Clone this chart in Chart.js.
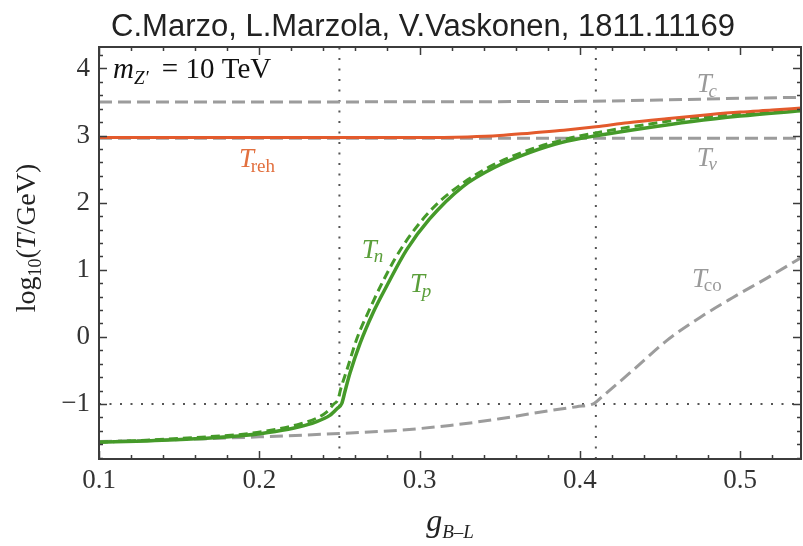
<!DOCTYPE html>
<html lang="en">
<head>
  <meta charset="UTF-8" />
  <title>Temperatures vs g_B-L</title>
  <script src="https://cdn.jsdelivr.net/npm/chart.js"></script>
  <style>
    html, body {
      margin: 0;
      padding: 0;
      background: #fff;
    }
    canvas {
      display: block;
    }
  </style>
</head>
<body>
  <canvas id="tempChart" width="803" height="546"></canvas>

  <script>
    // axis ranges and tick labels
    const xMin = 0.1, xMax = 0.538;
    const yMin = -1.82, yMax = 4.32;
    const xTicks = [0.1, 0.2, 0.3, 0.4, 0.5];
    const yTicks = [-1, 0, 1, 2, 3, 4];

    // reference lines (dotted)
    const refG = [0.25, 0.41];
    const refLog = -1;

    // T_reh
    const trehG   = [0.100, 0.300, 0.330, 0.350, 0.370, 0.390, 0.410, 0.430, 0.454, 0.480, 0.500, 0.520, 0.538];
    const trehLog = [2.97, 2.97, 2.98, 3.00, 3.04, 3.08, 3.13, 3.19, 3.25, 3.31, 3.35, 3.38, 3.41];

    // T_p (solid green)
    const tpG   = [0.100, 0.130, 0.160, 0.190, 0.210, 0.225, 0.235, 0.244, 0.2485, 0.2515, 0.2535, 0.2566, 0.263, 0.271, 0.280, 0.292, 0.306, 0.327, 0.348, 0.369, 0.389, 0.411, 0.440, 0.470, 0.500, 0.538];
    const tpLog = [-1.57, -1.55, -1.52, -1.47, -1.41, -1.34, -1.27, -1.17, -1.07, -0.99, -0.81, -0.54, -0.09, 0.36, 0.78, 1.30, 1.75, 2.24, 2.54, 2.75, 2.90, 3.00, 3.11, 3.21, 3.29, 3.37];

    // T_n (dashed green)
    const tnG   = [0.100, 0.130, 0.160, 0.190, 0.210, 0.225, 0.235, 0.242, 0.2465, 0.249, 0.251, 0.2547, 0.261, 0.269, 0.277, 0.2846, 0.295, 0.310, 0.330, 0.350, 0.370, 0.390, 0.410, 0.440, 0.470, 0.500, 0.538];
    const tnLog = [-1.57, -1.54, -1.50, -1.45, -1.38, -1.30, -1.22, -1.12, -1.00, -0.94, -0.76, -0.49, -0.02, 0.42, 0.82, 1.16, 1.54, 1.96, 2.34, 2.61, 2.80, 2.94, 3.04, 3.16, 3.26, 3.32, 3.38];

    // T_c, T_v, T_co (gray dashed)
    const tcG   = [0.100, 0.400, 0.450, 0.500, 0.538];
    const tcLog = [3.50, 3.51, 3.53, 3.555, 3.57];
    const tvG   = [0.100, 0.538];
    const tvLog = [2.96, 2.96];
    const tcoG   = [0.100, 0.150, 0.200, 0.250, 0.288, 0.319, 0.350, 0.381, 0.398, 0.409, 0.414, 0.433, 0.454, 0.475, 0.495, 0.517, 0.538];
    const tcoLog = [-1.56, -1.53, -1.49, -1.44, -1.39, -1.32, -1.22, -1.10, -1.04, -0.99, -0.89, -0.50, -0.06, 0.29, 0.58, 0.88, 1.18];

    const SERIF = "'Liberation Serif', 'DejaVu Serif', serif";
    const SANS = "'Liberation Sans', Arial, sans-serif";
    const RED = '#e35a2c';
    const GREEN = '#459a29';
    const GRAY = '#9c9c9c';

    const pts = (xs, ys) => xs.map((g, i) => ({ x: g, y: ys[i] }));

    function curve(data, color, width, dash) {
      return {
        data,
        borderColor: color,
        borderWidth: width,
        borderDash: dash || [],
        pointRadius: 0,
        fill: false,
        tension: 0.4,
        cubicInterpolationMode: 'monotone'
      };
    }

    function dotted(data) {
      return {
        data,
        borderColor: '#555',
        borderWidth: 2,
        borderDash: [2, 8.5],
        pointRadius: 0,
        fill: false,
        tension: 0
      };
    }

    // T with a subscript, placed in data coordinates
    function drawSub(ctx, x, y, base, sub, color, size, subItalic) {
      ctx.fillStyle = color;
      ctx.textAlign = 'left';
      ctx.textBaseline = 'alphabetic';
      ctx.font = `italic ${size}px ${SERIF}`;
      ctx.fillText(base, x, y);
      const w = ctx.measureText(base).width;
      ctx.font = `${subItalic ? 'italic ' : ''}${Math.round(size * 0.7)}px ${SERIF}`;
      ctx.fillText(sub, x + w - size * 0.12, y + size * 0.17);
    }

    const decor = {
      id: 'decor',
      beforeDraw(chart) {
        const ctx = chart.ctx;
        ctx.save();
        ctx.fillStyle = '#fff';
        ctx.fillRect(0, 0, chart.width, chart.height);
        ctx.restore();
      },
      afterDatasetsDraw(chart) {
        const { ctx, chartArea: a, scales: { x, y } } = chart;
        ctx.save();
        ctx.strokeStyle = '#3c3c3c';
        ctx.lineWidth = 1.5;
        ctx.beginPath();
        // x ticks every 0.02, major every 0.1 (top and bottom)
        for (let i = 0; ; i++) {
          const v = xMin + i * 0.02;
          if (v > xMax + 1e-9) break;
          const major = Math.abs(v * 10 - Math.round(v * 10)) < 1e-6;
          const len = major ? 8 : 4;
          const px = Math.round(x.getPixelForValue(v)) + 0.5;
          ctx.moveTo(px, a.bottom); ctx.lineTo(px, a.bottom - len);
          ctx.moveTo(px, a.top); ctx.lineTo(px, a.top + len);
        }
        // y ticks every 0.2, major every 1 (left and right)
        for (let i = 0; ; i++) {
          const v = -1.8 + i * 0.2;
          if (v > yMax + 1e-9) break;
          const major = Math.abs(v - Math.round(v)) < 1e-6;
          const len = major ? 8 : 4;
          const py = Math.round(y.getPixelForValue(v)) + 0.5;
          ctx.moveTo(a.left, py); ctx.lineTo(a.left + len, py);
          ctx.moveTo(a.right, py); ctx.lineTo(a.right - len, py);
        }
        ctx.stroke();
        // frame
        ctx.lineWidth = 2;
        ctx.strokeRect(a.left, a.top, a.right - a.left, a.bottom - a.top);
        ctx.restore();
      },
      afterDraw(chart) {
        const { ctx, chartArea: a, scales: { x, y } } = chart;
        ctx.save();

        // header line
        ctx.fillStyle = '#222';
        ctx.font = `31px ${SANS}`;
        ctx.textAlign = 'center';
        ctx.textBaseline = 'alphabetic';
        ctx.fillText('C.Marzo, L.Marzola, V.Vaskonen, 1811.11169', 423, 36);

        // mass label
        let px = x.getPixelForValue(0.1087), py = y.getPixelForValue(3.86);
        ctx.textAlign = 'left';
        ctx.fillStyle = '#111';
        ctx.font = `italic 29px ${SERIF}`;
        ctx.fillText('m', px, py);
        px += ctx.measureText('m').width;
        ctx.font = `italic 19px ${SERIF}`;
        ctx.fillText('Z\u2032', px, py + 6);
        px += ctx.measureText('Z\u2032').width;
        ctx.font = `29px ${SERIF}`;
        ctx.fillText(' = 10 TeV', px + 6, py);

        // curve names
        drawSub(ctx, x.getPixelForValue(0.1873), y.getPixelForValue(2.53), 'T', 'reh', '#e2703f', 27, false);
        drawSub(ctx, x.getPixelForValue(0.264), y.getPixelForValue(1.18), 'T', 'n', '#5a9e3a', 27, true);
        drawSub(ctx, x.getPixelForValue(0.294), y.getPixelForValue(0.67), 'T', 'p', '#5a9e3a', 27, true);
        drawSub(ctx, x.getPixelForValue(0.473), y.getPixelForValue(3.65), 'T', 'c', '#9a9a9a', 27, true);
        drawSub(ctx, x.getPixelForValue(0.473), y.getPixelForValue(2.55), 'T', 'v', '#9a9a9a', 27, true);
        drawSub(ctx, x.getPixelForValue(0.470), y.getPixelForValue(0.745), 'T', 'co', '#9a9a9a', 27, false);

        // y axis title, rotated
        ctx.fillStyle = '#222';
        const parts = [
          ['log', `28px ${SERIF}`, 0],
          ['10', `18px ${SERIF}`, 6],
          ['(', `28px ${SERIF}`, 0],
          ['T', `italic 28px ${SERIF}`, 0],
          ['/GeV)', `28px ${SERIF}`, 0]
        ];
        let total = 0;
        parts.forEach(p => { ctx.font = p[1]; total += ctx.measureText(p[0]).width; });
        ctx.translate(35, (a.top + a.bottom) / 2 - 15);
        ctx.rotate(-Math.PI / 2);
        let cx = -total / 2;
        parts.forEach(p => {
          ctx.font = p[1];
          ctx.fillText(p[0], cx, p[2]);
          cx += ctx.measureText(p[0]).width;
        });
        ctx.setTransform(1, 0, 0, 1, 0, 0);

        // x axis title
        ctx.font = `italic 32px ${SERIF}`;
        const gw = ctx.measureText('g').width;
        ctx.font = `italic 19px ${SERIF}`;
        const sw = ctx.measureText('B\u2013L').width;
        const gx = (a.left + a.right) / 2 - (gw + sw) / 2;
        ctx.font = `italic 32px ${SERIF}`;
        ctx.fillText('g', gx, 531);
        ctx.font = `italic 19px ${SERIF}`;
        ctx.fillText('B\u2013L', gx + gw, 538);

        ctx.restore();
      }
    };

    const ctx = document.getElementById('tempChart').getContext('2d');
    new Chart(ctx, {
      type: 'line',
      data: {
        datasets: [
          curve(pts(trehG, trehLog), RED, 3),
          curve(pts(tpG, tpLog), GREEN, 3.5),
          curve(pts(tnG, tnLog), GREEN, 3, [9, 5]),
          curve(pts(tcG, tcLog), GRAY, 3, [13, 6]),
          curve(pts(tvG, tvLog), GRAY, 3, [13, 6]),
          curve(pts(tcoG, tcoLog), GRAY, 3, [13, 6]),
          dotted([{ x: refG[0], y: yMin }, { x: refG[0], y: yMax }]),
          dotted([{ x: refG[1], y: yMin }, { x: refG[1], y: yMax }]),
          dotted([{ x: xMin, y: refLog }, { x: xMax, y: refLog }])
        ]
      },
      options: {
        responsive: false,
        animation: false,
        devicePixelRatio: 1,
        layout: { padding: { top: 47, right: 2, left: 0, bottom: 0 } },
        plugins: {
          legend: { display: false },
          tooltip: { enabled: false }
        },
        scales: {
          x: {
            type: 'linear',
            min: xMin,
            max: xMax,
            grid: { display: false, drawTicks: false },
            border: { display: false },
            ticks: {
              color: '#333',
              font: { family: SERIF, size: 27 },
              padding: 6,
              maxRotation: 0,
              callback: v => v.toFixed(1)
            },
            afterBuildTicks: s => { s.ticks = xTicks.map(v => ({ value: v })); },
            afterFit: s => { s.height = 87; }
          },
          y: {
            type: 'linear',
            min: yMin,
            max: yMax,
            grid: { display: false, drawTicks: false },
            border: { display: false },
            ticks: {
              color: '#333',
              font: { family: SERIF, size: 27 },
              padding: 9,
              callback: v => (v < 0 ? '\u2212' + Math.abs(v) : String(v))
            },
            afterBuildTicks: s => { s.ticks = yTicks.map(v => ({ value: v })); },
            afterFit: s => { s.width = 99; }
          }
        }
      },
      plugins: [decor]
    });
  </script>
</body>
</html>
